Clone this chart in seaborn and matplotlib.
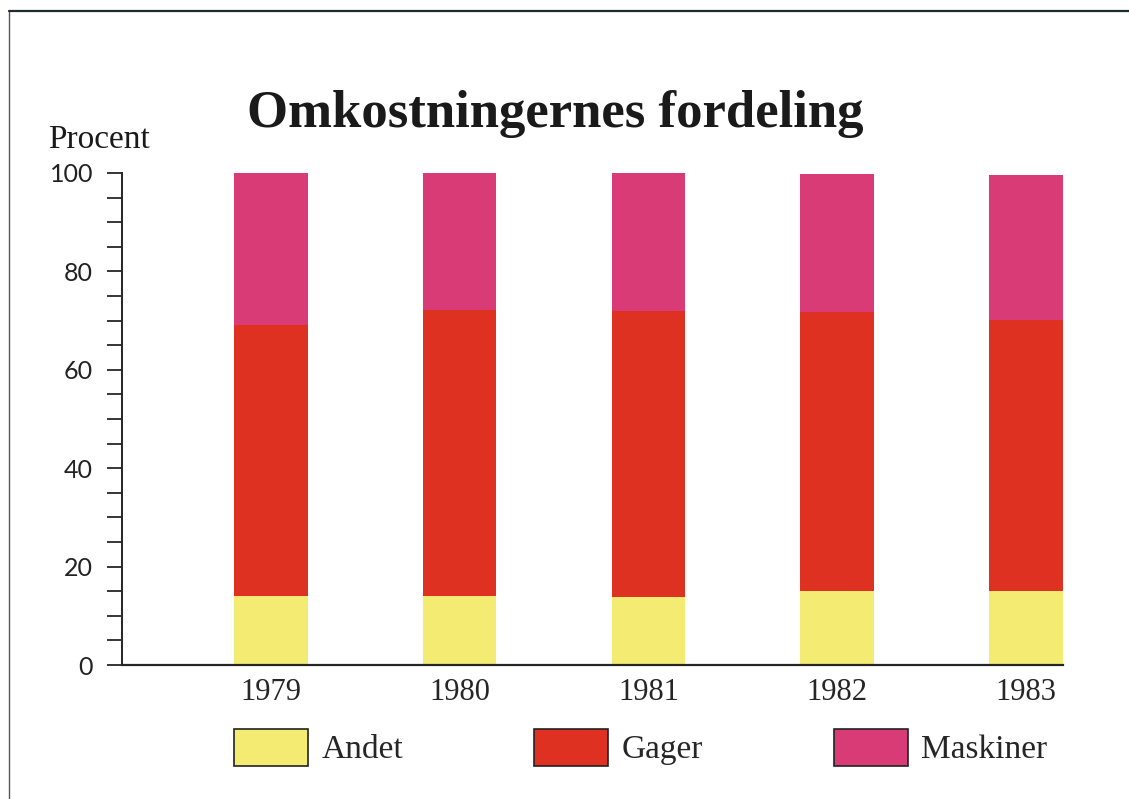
import matplotlib
matplotlib.use("Agg")
import matplotlib.pyplot as plt
import matplotlib.patches as mpatches
import matplotlib.lines as mlines
import numpy as np
import pandas as pd
import seaborn as sns

# data (percent)
years = ["1979", "1980", "1981", "1982", "1983"]
andet = [14.0, 14.0, 13.8, 15.0, 15.0]
gager = [55.1, 58.2, 58.2, 56.7, 55.1]
maskiner = [30.9, 27.8, 28.0, 28.1, 29.5]

series_names = ["Andet", "Gager", "Maskiner"]
farver = ["#F4EC72", "#DF3122", "#D93B76"]

sns.set_style("ticks")
plt.rcParams["font.family"] = ["Liberation Serif", "DejaVu Serif"]

df = pd.DataFrame({"aar": years, "Andet": andet, "Gager": gager, "Maskiner": maskiner})
# cumulative tops for stacking (drawn back to front)
df["top_andet"] = df["Andet"]
df["top_gager"] = df["Andet"] + df["Gager"]
df["top_maskiner"] = df["Andet"] + df["Gager"] + df["Maskiner"]

fig = plt.figure(figsize=(11.29, 7.99), dpi=100)
ax = fig.add_axes([0.1081, 0.1677, 0.8334, 0.6158])

bredde = 0.39
for col, farve in zip(["top_maskiner", "top_gager", "top_andet"], farver[::-1]):
    sns.barplot(data=df, x="aar", y=col, order=years, color=farve, width=bredde,
                saturation=1, linewidth=0, ax=ax)

ax.set_xlim(-0.788, 4.196)
ax.set_ylim(0, 100)
ax.set_xlabel("")
ax.set_ylabel("")
sns.despine(ax=ax)
ax.spines["left"].set_linewidth(1.4)
ax.spines["bottom"].set_linewidth(1.6)

ax.set_yticks(np.arange(0, 101, 20))
ax.set_yticks(np.arange(0, 101, 5), minor=True)
ax.tick_params(axis="y", which="both", direction="out", length=10.8, width=1.3)
ax.tick_params(axis="y", which="major", pad=10, labelsize=18)
for lab in ax.get_yticklabels():
    lab.set_fontfamily("Lato")
    lab.set_color("#222222")
ax.tick_params(axis="x", length=0, pad=9, labelsize=22)

# legend
handles = [mpatches.Patch(facecolor=f, edgecolor="#222222", linewidth=1.2, label=n)
           for f, n in zip(farver, series_names)]
leg = fig.legend(handles=handles, loc="upper left", bbox_to_anchor=(0.2073, 0.0876),
                 ncol=3, frameon=False, fontsize=24, handlelength=2.22, handleheight=1.31,
                 handletextpad=0.4, columnspacing=3.93, borderaxespad=0, borderpad=0)

fig.text(0.4916, 1 - 127 / 799, "Omkostningernes fordeling", ha="center", va="baseline",
         fontsize=38, fontweight="bold", color="#1a1a1a")
fig.text(48 / 1129, 1 - 148 / 799, "Procent", ha="left", va="baseline", fontsize=24,
         color="#1a1a1a")

# scanned page frame
fig.add_artist(mlines.Line2D([9 / 1129, 9 / 1129], [0, 1 - 11 / 799], color="#555555", lw=1.0))
fig.add_artist(mlines.Line2D([9 / 1129, 1], [1 - 11 / 799, 1 - 11 / 799], color="#1f2a2e", lw=1.6))

fig.savefig("out.png", dpi=100)
